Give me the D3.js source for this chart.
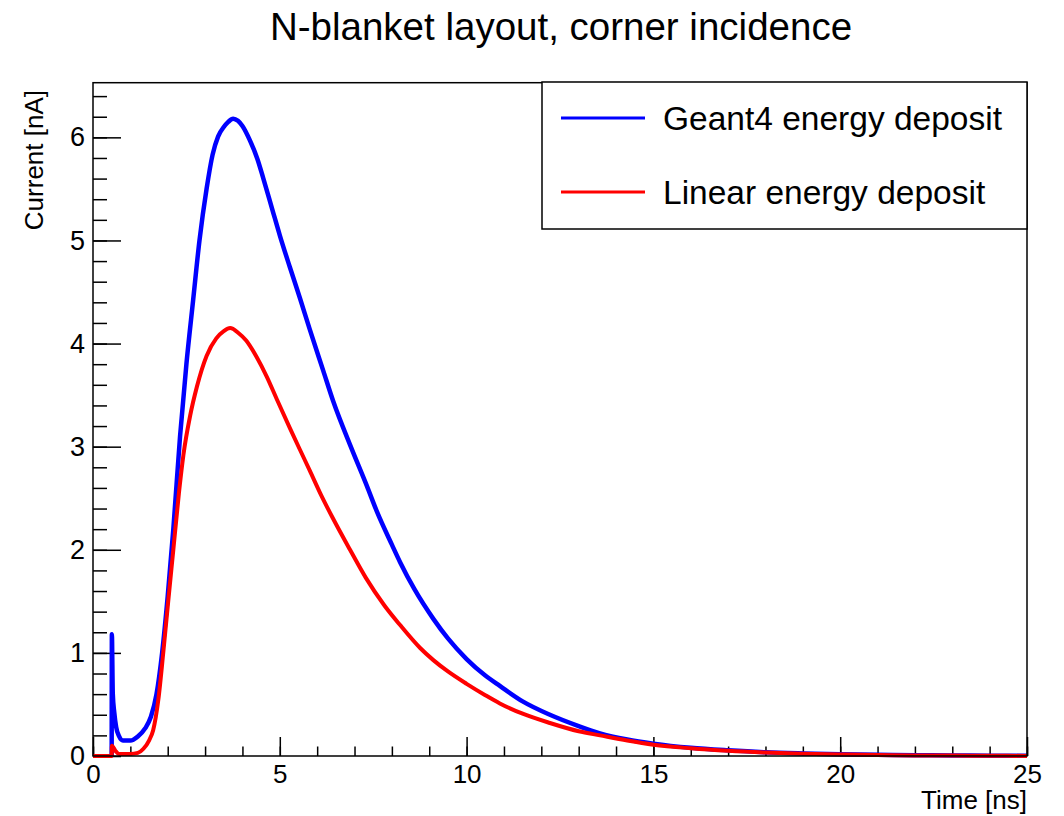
<!DOCTYPE html>
<html>
<head>
<meta charset="utf-8">
<script src="https://cdn.jsdelivr.net/npm/d3@7"></script>
<style>
  html, body { margin: 0; padding: 0; background: #fff; }
  text { font-family: "Liberation Sans", Arial, Helvetica, sans-serif; fill: #000; }
</style>
</head>
<body>
<svg id="chart" width="1064" height="816"></svg>
<script>
// ---- data ----
const title = "N-blanket layout, corner incidence";
const xTitle = "Time [ns]";
const yTitle = "Current [nA]";
const seriesNames = ["Geant4 energy deposit", "Linear energy deposit"];
const seriesColors = ["#0000ff", "#ff0000"];
const xMajorTicks = [0, 5, 10, 15, 20, 25];
const yMajorTicks = [0, 1, 2, 3, 4, 5, 6];

const geantT = [0.5, 0.505, 0.53, 0.57, 0.62, 0.7, 0.8, 1.0, 1.2, 1.4, 1.55, 1.7, 1.85, 2.0, 2.15, 2.33, 2.5, 2.68, 2.85, 3.04, 3.2, 3.35, 3.5, 3.62, 3.75, 3.88, 4.0, 4.2, 4.4, 4.56, 4.8, 5.0, 5.27, 5.54, 5.8, 6.16, 6.43, 6.9, 7.33, 7.6, 8.0, 8.22, 8.6, 9.11, 9.5, 10.0, 10.5, 10.89, 11.5, 12.23, 13.0, 13.57, 14.3, 15, 16, 17, 18, 19, 20, 21, 22, 23, 24, 25];
const geantV = [0, 1.18, 0.6, 0.42, 0.28, 0.19, 0.15, 0.15, 0.19, 0.27, 0.38, 0.6, 1.0, 1.55, 2.2, 3.1, 3.8, 4.42, 5.0, 5.5, 5.83, 6.01, 6.1, 6.15, 6.18, 6.16, 6.11, 5.97, 5.79, 5.6, 5.3, 5.05, 4.74, 4.44, 4.14, 3.74, 3.44, 3.0, 2.62, 2.37, 2.05, 1.88, 1.62, 1.33, 1.14, 0.94, 0.78, 0.68, 0.53, 0.4, 0.29, 0.22, 0.16, 0.12, 0.08, 0.055, 0.036, 0.025, 0.017, 0.012, 0.008, 0.005, 0.003, 0.002];

const linearT = [0, 0.5, 0.505, 0.6, 0.7, 1.0, 1.2, 1.35, 1.5, 1.61, 1.75, 1.88, 2.0, 2.15, 2.3, 2.42, 2.6, 2.78, 3.04, 3.3, 3.5, 3.67, 3.9, 4.1, 4.38, 4.65, 4.92, 5.27, 5.54, 5.8, 6.08, 6.4, 6.88, 7.3, 7.8, 8.22, 8.75, 9.11, 9.5, 10.0, 10.5, 10.89, 11.5, 12.23, 13.0, 13.57, 14.3, 15, 16, 17, 18, 19, 20, 21, 22, 23, 24, 25];
const linearV = [0, 0, 0.1, 0.05, 0.02, 0.02, 0.03, 0.07, 0.15, 0.25, 0.55, 1.0, 1.45, 2.0, 2.55, 2.92, 3.3, 3.58, 3.88, 4.05, 4.12, 4.15, 4.1, 4.03, 3.87, 3.68, 3.46, 3.18, 2.97, 2.77, 2.55, 2.32, 2.0, 1.73, 1.46, 1.27, 1.05, 0.93, 0.82, 0.7, 0.59, 0.51, 0.41, 0.32, 0.24, 0.2, 0.15, 0.11, 0.075, 0.05, 0.033, 0.022, 0.015, 0.01, 0.006, 0.004, 0.002, 0.001];

// ---- layout ----
const L = 93, R = 1027, T = 82.7, B = 756;
const xMax = 25, yMax = 6.53;

const svg = d3.select("#chart");
const x = d3.scaleLinear().domain([0, xMax]).range([L, R]);
const y = d3.scaleLinear().domain([0, yMax]).range([B, T]);

// title
svg.append("text").attr("x", 561).attr("y", 40).attr("text-anchor", "middle")
  .style("font-size", "38.5px").text(title);

// minor ticks
const xMinor = d3.range(0, xMax + 0.001, 1);
const yMinor = d3.range(0, yMax, 0.2);

svg.append("g").attr("transform", `translate(0,${B})`)
  .call(d3.axisBottom(x).tickValues(xMinor).tickSize(-9.5).tickFormat(""))
  .call(g => g.select(".domain").remove())
  .call(g => g.selectAll("line").attr("stroke", "#000").attr("stroke-width", 1.5));
svg.append("g").attr("transform", `translate(0,${B})`)
  .call(d3.axisBottom(x).tickValues(xMajorTicks).tickSize(-19).tickPadding(9).tickFormat(d3.format("d")))
  .call(g => g.select(".domain").remove())
  .call(g => g.selectAll("line").attr("stroke", "#000").attr("stroke-width", 1.5))
  .call(g => g.selectAll("text").style("font-size", "26px").attr("font-family", null));

svg.append("g").attr("transform", `translate(${L},0)`)
  .call(d3.axisLeft(y).tickValues(yMinor).tickSize(-14).tickFormat(""))
  .call(g => g.select(".domain").remove())
  .call(g => g.selectAll("line").attr("stroke", "#000").attr("stroke-width", 1.5));
svg.append("g").attr("transform", `translate(${L},0)`)
  .call(d3.axisLeft(y).tickValues(yMajorTicks).tickSize(-28).tickPadding(8).tickFormat(d3.format("d")))
  .call(g => g.select(".domain").remove())
  .call(g => g.selectAll("line").attr("stroke", "#000").attr("stroke-width", 1.5))
  .call(g => g.selectAll("text").style("font-size", "27px").attr("font-family", null));

// curves
const line = d3.line().x(d => x(d[0])).y(d => y(d[1])).curve(d3.curveMonotoneX);
const series = [
  d3.zip(linearT, linearV),
  d3.zip(geantT, geantV)
];
svg.append("path").datum(series[1]).attr("d", line)
  .attr("fill", "none").attr("stroke", seriesColors[0]).attr("stroke-width", 4.5).attr("stroke-linejoin", "round");
svg.append("path").datum(series[0]).attr("d", line)
  .attr("fill", "none").attr("stroke", seriesColors[1]).attr("stroke-width", 4).attr("stroke-linejoin", "round");

// frame
svg.append("rect").attr("x", L).attr("y", T).attr("width", R - L).attr("height", B - T)
  .attr("fill", "none").attr("stroke", "#000").attr("stroke-width", 1.5);

// axis titles
svg.append("text").attr("x", R).attr("y", 809).attr("text-anchor", "end")
  .style("font-size", "26px").text(xTitle);
svg.append("text").attr("transform", `translate(43,90) rotate(-90)`).attr("text-anchor", "end")
  .style("font-size", "26px").text(yTitle);

// legend
const lg = svg.append("g");
lg.append("rect").attr("x", 542).attr("y", 82).attr("width", 485).attr("height", 147)
  .attr("fill", "#fff").attr("stroke", "#000").attr("stroke-width", 1.5);
const legY = [118, 192];
seriesNames.forEach((n, i) => {
  lg.append("line").attr("x1", 561).attr("x2", 645).attr("y1", legY[i]).attr("y2", legY[i])
    .attr("stroke", seriesColors[i]).attr("stroke-width", 3);
  lg.append("text").attr("x", 663).attr("y", legY[i] + 12).style("font-size", "33.5px").text(n);
});
</script>
</body>
</html>
